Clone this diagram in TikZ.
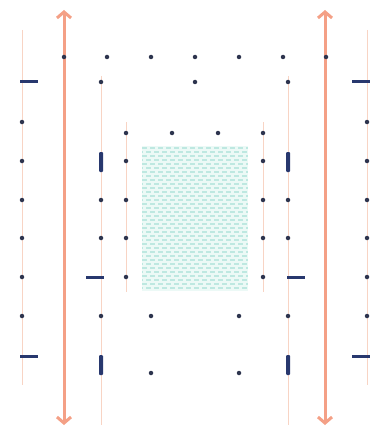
\documentclass[tikz,border=0pt]{standalone}
\usepackage{tikz}
\usetikzlibrary{arrows.meta}
\definecolor{salmon}{RGB}{244,160,134}
\definecolor{palesalmon}{RGB}{248,212,196}
\definecolor{navy}{RGB}{40,56,110}
\definecolor{inkdot}{RGB}{45,52,78}
\definecolor{tealfill}{RGB}{236,249,246}
\definecolor{tealdash}{RGB}{190,232,225}

\begin{document}
\begin{tikzpicture}[
  x=1pt, y=-1pt,
  dot/.style={circle, fill=inkdot, inner sep=0pt, minimum size=4.5pt},
  hdash/.style={rectangle, fill=navy, inner sep=0pt,
                minimum width=18pt, minimum height=3pt},
  vdash/.style={rectangle, rounded corners=1pt, fill=navy, inner sep=0pt,
                minimum width=4pt, minimum height=20pt},
  guide/.style={palesalmon, line width=1pt},
  bigarr/.style={{Straight Barb[length=6pt, width=14pt]}-{Straight Barb[length=6pt, width=14pt]},
                 salmon, line width=3pt}
]
  \useasboundingbox (0,0) rectangle (380,433);

  % - Vung gach cheo o giua -
  \fill[tealfill] (142,146) rectangle (248,291);
  \begin{scope}
    \clip (142,146) rectangle (248,291);
    \foreach \yy in {148,156,...,290}
      \draw[tealdash, line width=1.6pt, dash pattern=on 5pt off 3pt] (142,\yy) -- (248,\yy);
    \foreach \yy in {152,160,...,290}
      \draw[tealdash, line width=1.6pt, dash pattern=on 5pt off 3pt, dash phase=4pt] (142,\yy) -- (248,\yy);
  \end{scope}

  % - Duong dan mong -
  \coordinate (outerLtop) at (22,30);   \coordinate (outerLbot) at (22,385);
  \coordinate (outerRtop) at (367,30);  \coordinate (outerRbot) at (367,385);
  \coordinate (midLtop)   at (101,76);  \coordinate (midLbot)   at (101,425);
  \coordinate (midRtop)   at (288,76);  \coordinate (midRbot)   at (288,425);
  \coordinate (innLtop)   at (126,122); \coordinate (innLbot)   at (126,292);
  \coordinate (innRtop)   at (263,122); \coordinate (innRbot)   at (263,292);
  \draw[guide] (outerLtop) -- (outerLbot);
  \draw[guide] (outerRtop) -- (outerRbot);
  \draw[guide] (midLtop)   -- (midLbot);
  \draw[guide] (midRtop)   -- (midRbot);
  \draw[guide] (innLtop)   -- (innLbot);
  \draw[guide] (innRtop)   -- (innRbot);

  % - Mui ten lon hai dau -
  \coordinate (arrLtop) at (64,10);  \coordinate (arrLbot) at (64,425);
  \coordinate (arrRtop) at (325,10); \coordinate (arrRbot) at (325,425);
  \draw[bigarr] (arrLtop) -- (arrLbot);
  \draw[bigarr] (arrRtop) -- (arrRbot);

  % - Hang tren -
  \foreach \xx [count=\i] in {64,107,151,195,239,283,326}
    \node[dot] (top\i) at (\xx,57) {};
  \node[dot] (r2a) at (101,82) {};
  \node[dot] (r2b) at (195,82) {};
  \node[dot] (r2c) at (288,82) {};
  \node[dot] (r3a) at (172,133) {};
  \node[dot] (r3b) at (218,133) {};

  % - Cot ngoai -
  \foreach \yy [count=\i] in {122,161,200,238,277,316}
  {
    \node[dot] (outL\i) at (22,\yy) {};
    \node[dot] (outR\i) at (367,\yy) {};
  }
  \node[hdash] (dashL1) at (29,82)  {};
  \node[hdash] (dashR1) at (361,82) {};
  \node[hdash] (dashL2) at (29,356) {};
  \node[hdash] (dashR2) at (361,356) {};

  % - Cot giua -
  \foreach \yy [count=\i] in {200,238,316}
  {
    \node[dot] (midL\i) at (101,\yy) {};
    \node[dot] (midR\i) at (288,\yy) {};
  }
  \node[vdash] (vL1) at (101,162) {};
  \node[vdash] (vR1) at (288,162) {};
  \node[vdash] (vL2) at (101,365) {};
  \node[vdash] (vR2) at (288,365) {};
  \node[hdash] (hL1) at (95,277)  {};
  \node[hdash] (hR1) at (296,277) {};

  % - Cot trong -
  \foreach \yy [count=\i] in {133,161,200,238,277}
  {
    \node[dot] (inL\i) at (126,\yy) {};
    \node[dot] (inR\i) at (263,\yy) {};
  }

  % - Hang duoi -
  \node[dot] (b1a) at (151,316) {};
  \node[dot] (b1b) at (239,316) {};
  \node[dot] (b2a) at (151,373) {};
  \node[dot] (b2b) at (239,373) {};
\end{tikzpicture}
\end{document}
